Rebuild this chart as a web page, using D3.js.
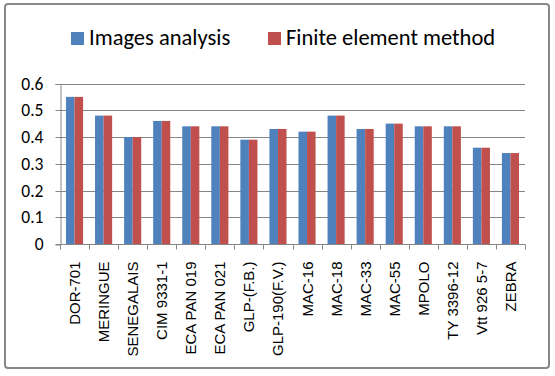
<!DOCTYPE html>
<html><head><meta charset="utf-8">
<script src="https://cdn.jsdelivr.net/npm/d3@7"></script>
<style>body{margin:0;background:#fff}svg{display:block}</style>
</head><body>
<script>
const categories = ["DOR-701","MERINGUE","SENEGALAIS","CIM 9331-1","ECA PAN 019","ECA PAN 021","GLP-(F.B.)","GLP-190(F.V.)","MAC-16","MAC-18","MAC-33","MAC-55","MPOLO","TY 3396-12","Vtt 926 5-7","ZEBRA"];
const imagesAnalysis = [0.55,0.48,0.40,0.46,0.44,0.44,0.39,0.43,0.42,0.48,0.43,0.45,0.44,0.44,0.36,0.34];
const finiteElement = [0.55,0.48,0.40,0.46,0.44,0.44,0.39,0.43,0.42,0.48,0.43,0.45,0.44,0.44,0.36,0.34];
const seriesNames = ["Images analysis","Finite element method"];
const yTicks = [0,0.1,0.2,0.3,0.4,0.5,0.6];
const colors = ["#4F81BD","#C0504D"];

(function(){
const W=555,H=376;
const svg=d3.select("body").append("svg").attr("width",W).attr("height",H);
svg.append("rect").attr("x",5).attr("y",4).attr("width",544).attr("height",364)
  .attr("rx",3).attr("fill","#fff").attr("stroke","#888").attr("stroke-width",2);

const pl=60,pr=525,pt=83.5,pb=244;
const x=d3.scaleBand().domain(categories).range([pl,pr]).paddingInner(0).paddingOuter(0);
const y=d3.scaleLinear().domain([0,0.6]).range([pb,pt]);
const sub=d3.scaleBand().domain([0,1]).range([0,x.bandwidth()]).paddingOuter(0.7).paddingInner(0);

svg.append("g").selectAll("line").data(yTicks.filter(d=>d>0)).join("line")
  .attr("x1",pl).attr("x2",pr).attr("y1",d=>Math.round(y(d))+0.5).attr("y2",d=>Math.round(y(d))+0.5)
  .attr("stroke","#868686").attr("stroke-width",1);

const ya=svg.append("g").attr("transform",`translate(${pl+0.5},0.5)`)
  .call(d3.axisLeft(y).tickValues(yTicks).tickFormat(d=>d===0?"0":d3.format(".1f")(d)).tickSizeOuter(0).tickSize(5).tickPadding(12));
ya.selectAll("line,path").attr("stroke","#868686");
ya.selectAll("text").attr("font-family","Carlito, 'Liberation Sans', Arial, sans-serif").attr("font-size",17.5).attr("fill","#000");
ya.selectAll(".tick").attr("transform",d=>`translate(0,${Math.round(y(d))})`);

const series=[imagesAnalysis,finiteElement];
series.forEach((vals,si)=>{
  svg.append("g").selectAll("rect").data(vals).join("rect")
    .attr("x",(d,i)=>x(categories[i])+sub(si))
    .attr("y",d=>y(d)).attr("width",sub.bandwidth()).attr("height",d=>pb-y(d))
    .attr("fill",colors[si]);
});

const xa=svg.append("g").attr("transform",`translate(0,${pb+0.5})`);
xa.append("line").attr("x1",pl).attr("x2",pr).attr("stroke","#868686");
const bounds=categories.map(c=>x(c)).concat([pr]);
xa.selectAll("line.t").data(bounds).join("line").attr("class","t")
  .attr("x1",d=>Math.round(d)+0.5).attr("x2",d=>Math.round(d)+0.5).attr("y1",0).attr("y2",5).attr("stroke","#868686");
xa.selectAll("text").data(categories).join("text")
  .attr("transform",d=>`translate(${x(d)+x.bandwidth()/2+5.5},17) rotate(-90)`)
  .attr("text-anchor","end").attr("font-family","'Liberation Sans', Arial, sans-serif").attr("font-size",15)
  .attr("fill","#000").text(d=>d);

const lg=svg.append("g");
const lx=[71,268];
seriesNames.forEach((n,i)=>{
  lg.append("rect").attr("x",lx[i]).attr("y",32).attr("width",13).attr("height",13).attr("fill",colors[i]);
  lg.append("text").attr("x",lx[i]+18).attr("y",45).attr("font-family","Carlito, 'Liberation Sans', Arial, sans-serif")
    .attr("font-size",22.5).attr("fill","#000").text(n);
});
})();
</script>
</body></html>
